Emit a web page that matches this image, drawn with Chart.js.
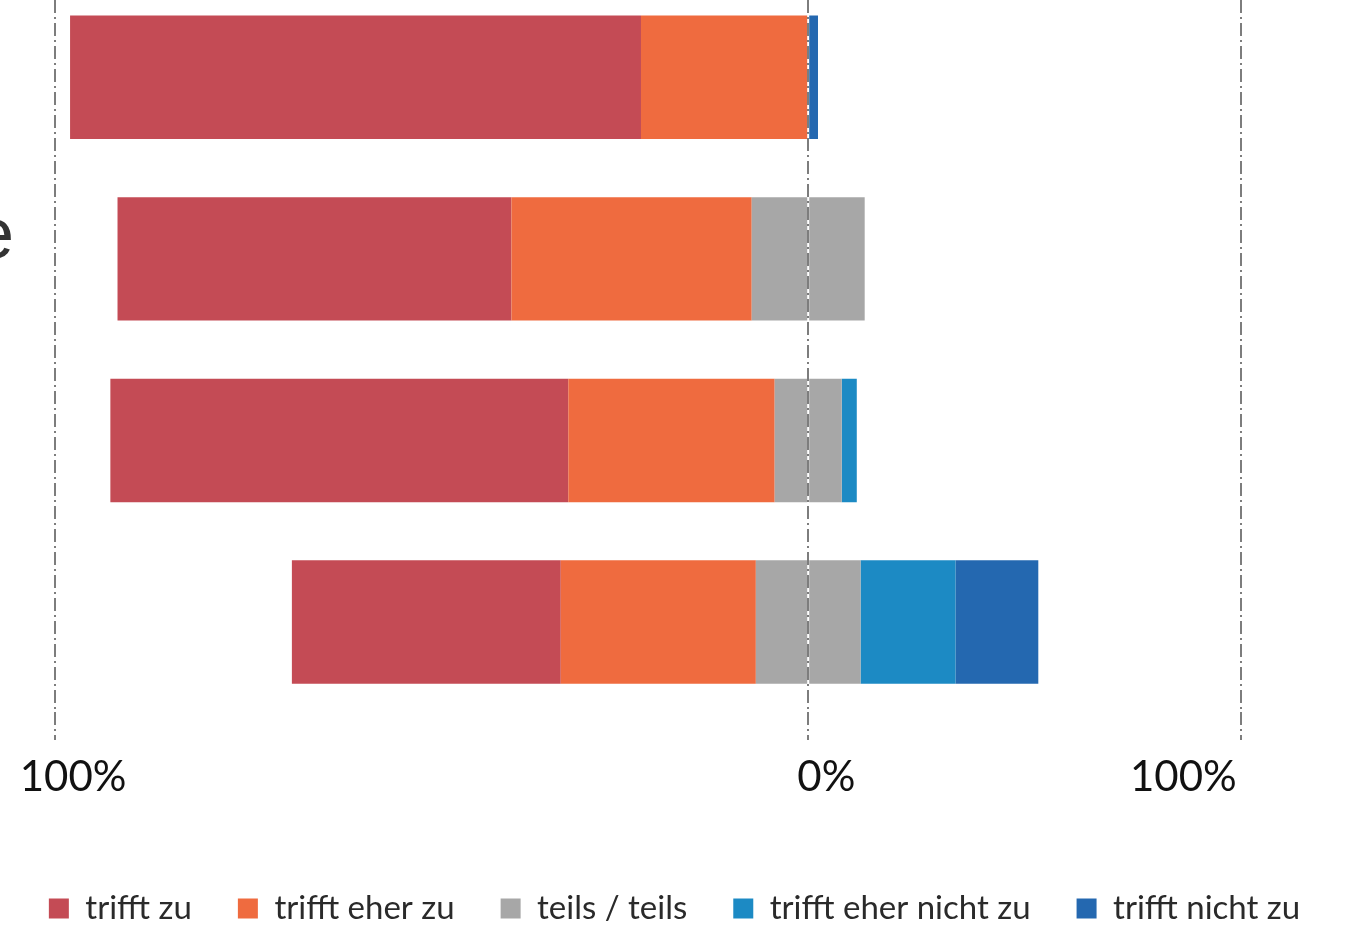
<!DOCTYPE html>
<html>
<head>
<meta charset="utf-8">
<script src="https://cdn.jsdelivr.net/npm/chart.js@4.4.1/dist/chart.umd.min.js"></script>
<style>
  html, body { margin: 0; padding: 0; background: #fff; }
  canvas { display: block; }
</style>
</head>
<body>
<canvas id="myChart" width="1349" height="926"></canvas>
<script>
// only the tail of one category label is visible in the picture
var categories = ['', 'e', '', ''];

// shares in percent, one value per bar (top to bottom)
var trifftZu      = [75.8, 52.3, 60.8, 35.7];
var trifftEherZu  = [22.2, 31.9, 27.4, 25.9];
var teilsTeils    = [0,    15.0, 8.9,  13.9];
var eherNichtZu   = [0,    0,    2.0,  12.6];
var nichtZu       = [1.3,  0,    0,    11.0];

var seriesNames  = ['trifft zu', 'trifft eher zu', 'teils / teils', 'trifft eher nicht zu', 'trifft nicht zu'];
var seriesColors = ['#C44B55', '#EF6B3F', '#A7A7A7', '#1C8AC4', '#2468B0'];

// x axis: where the dash-dot lines sit and where their labels sit
var gridValues      = [-100, 0, 57.4];
var tickLabelValues = [-97.6, 2.4, 49.8];
var tickLabels      = ['100%', '0%', '100%'];
var xMin = -100, xMax = 71.8;

// row axis runs a bit past the top edge, like the cropped scan
var yMin = -0.426, yMax = 3.496;

//neutral answers are split half left / half right of the 0 line
var halfTeils = teilsTeils.map(function (v) { return v / 2; });

function rows(arr, sign) {
    return arr.map(function (v, i) { return { x: sign * v, y: i }; });
}

// legend order: zu, eher zu, teils, eher nicht, nicht
var legendRank = { 0: 2, 1: 1, 2: 0, 4: 3, 5: 4 };

Chart.defaults.font.family = 'Lato';

const GRAPH = document.getElementById('myChart');
const barGraph = new Chart(GRAPH, {
    type: 'bar',
    data: {
        datasets: [
            { label: seriesNames[2], data: rows(halfTeils, -1),    backgroundColor: seriesColors[2] },
            { label: seriesNames[1], data: rows(trifftEherZu, -1), backgroundColor: seriesColors[1] },
            { label: seriesNames[0], data: rows(trifftZu, -1),     backgroundColor: seriesColors[0] },
            { label: seriesNames[2], data: rows(halfTeils, 1),     backgroundColor: seriesColors[2] },
            { label: seriesNames[3], data: rows(eherNichtZu, 1),   backgroundColor: seriesColors[3] },
            { label: seriesNames[4], data: rows(nichtZu, 1),       backgroundColor: seriesColors[4] }
        ]
    },
    options: {
        responsive: false,
        animation: false,
        devicePixelRatio: 1,
        indexAxis: 'y',
        layout: { padding: { top: 0, right: 0, left: 0, bottom: -9 } },
        datasets: { bar: { barPercentage: 0.68, categoryPercentage: 1, borderWidth: 0 } },
        scales: {
            x: {
                stacked: true,
                min: xMin,
                max: xMax,
                afterBuildTicks: function (scale) {
                    scale.ticks = gridValues.map(function (v) { return { value: v }; });
                },
                afterFit: function (scale) { scale.paddingLeft = 0; scale.paddingRight = 0; },
                ticks: { display: false },
                border: { display: false, dash: [13, 4, 2, 4] },
                grid: {
                    color: '#7d7d7d',
                    lineWidth: 2,
                    z: 1,
                    drawTicks: true,
                    tickLength: 28,
                    tickColor: '#7d7d7d',
                    tickWidth: 2,
                    tickBorderDash: [13, 4, 2, 4]
                }
            },
            xl: {
                type: 'linear',
                position: 'bottom',
                min: xMin,
                max: xMax,
                afterBuildTicks: function (scale) {
                    scale.ticks = tickLabelValues.map(function (v) { return { value: v }; });
                },
                afterFit: function (scale) {
                    scale.height = 106;
                    scale.paddingLeft = 0;
                    scale.paddingRight = 0;
                },
                ticks: {
                    padding: 12,
                    maxRotation: 0,
                    autoSkip: false,
                    color: '#111',
                    font: { size: 42 },
                    callback: function (value, index) { return tickLabels[index]; }
                },
                border: { display: false },
                grid: { display: false, drawTicks: false }
            },
            y: {
                type: 'linear',
                stacked: true,
                reverse: true,
                offset: false,
                min: yMin,
                max: yMax,
                afterBuildTicks: function (scale) {
                    scale.ticks = categories.map(function (c, i) { return { value: i }; });
                },
                afterFit: function (scale) {
                    scale.width = 55;
                    scale.paddingTop = 0;
                    scale.paddingBottom = 0;
                },
                ticks: {
                    padding: 41,
                    labelOffset: -21,
                    autoSkip: false,
                    color: '#333',
                    font: { family: 'Liberation Sans', size: 72 },
                    callback: function (value) { return categories[value]; }
                },
                border: { display: false },
                grid: { display: false, drawTicks: false }
            }
        },
        plugins: {
            tooltip: { enabled: false },
            legend: {
                position: 'bottom',
                labels: {
                    boxWidth: 20,
                    boxHeight: 20,
                    padding: 46,
                    color: '#2a2a2a',
                    font: { size: 33 },
                    filter: function (item) { return item.datasetIndex !== 3; },
                    sort: function (a, b) { return legendRank[a.datasetIndex] - legendRank[b.datasetIndex]; }
                }
            }
        }
    }
});
</script>
</body>
</html>
